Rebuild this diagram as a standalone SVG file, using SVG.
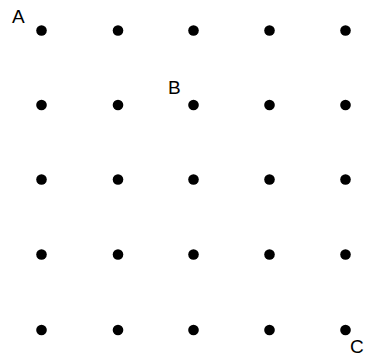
<svg xmlns="http://www.w3.org/2000/svg" width="365" height="358" viewBox="0 0 365 358">
<style>
.dot{fill:#000}
.lbl{font-family:"Liberation Sans",Arial,sans-serif;font-size:19px;fill:#000}
</style>
<rect width="365" height="358" fill="#fff"/>
<g id="connectors"></g>
<g id="dots">
<g id="r1">
<circle class="dot" cx="41.5" cy="30.5" r="5.3"/><circle class="dot" cx="118" cy="30.5" r="5.3"/><circle class="dot" cx="193.5" cy="30.5" r="5.3"/><circle class="dot" cx="269.5" cy="30.5" r="5.3"/><circle class="dot" cx="345.5" cy="30.5" r="5.3"/>
</g>
<g id="r2">
<circle class="dot" cx="41.5" cy="105" r="5.3"/><circle class="dot" cx="118" cy="105" r="5.3"/><circle class="dot" cx="193.5" cy="105" r="5.3"/><circle class="dot" cx="269.5" cy="105" r="5.3"/><circle class="dot" cx="345.5" cy="105" r="5.3"/>
</g>
<g id="r3">
<circle class="dot" cx="41.5" cy="179.5" r="5.3"/><circle class="dot" cx="118" cy="179.5" r="5.3"/><circle class="dot" cx="193.5" cy="179.5" r="5.3"/><circle class="dot" cx="269.5" cy="179.5" r="5.3"/><circle class="dot" cx="345.5" cy="179.5" r="5.3"/>
</g>
<g id="r4">
<circle class="dot" cx="41.5" cy="254.5" r="5.3"/><circle class="dot" cx="118" cy="254.5" r="5.3"/><circle class="dot" cx="193.5" cy="254.5" r="5.3"/><circle class="dot" cx="269.5" cy="254.5" r="5.3"/><circle class="dot" cx="345.5" cy="254.5" r="5.3"/>
</g>
<g id="r5">
<circle class="dot" cx="41.5" cy="330" r="5.3"/><circle class="dot" cx="118" cy="330" r="5.3"/><circle class="dot" cx="193.5" cy="330" r="5.3"/><circle class="dot" cx="269.5" cy="330" r="5.3"/><circle class="dot" cx="345.5" cy="330" r="5.3"/>
</g>
</g>
<g id="label-A"><text class="lbl" x="12" y="23">A</text></g>
<g id="label-B"><text class="lbl" x="168" y="94">B</text></g>
<g id="label-C"><text class="lbl" x="350" y="353">C</text></g>
</svg>
